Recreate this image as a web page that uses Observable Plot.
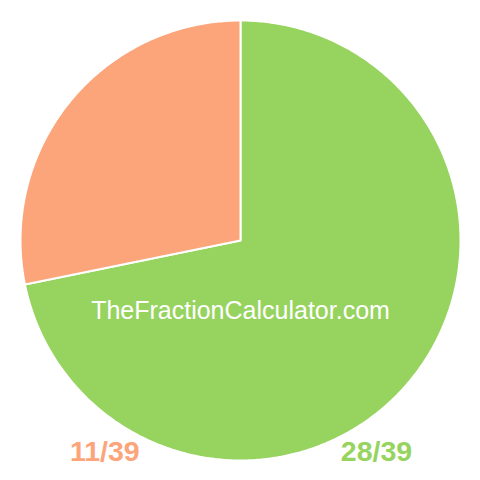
<!DOCTYPE html>
<html>
<head>
<meta charset="utf-8">
<script src="https://cdn.jsdelivr.net/npm/d3@7"></script>
<script src="https://cdn.jsdelivr.net/npm/@observablehq/plot@0.6"></script>
<style>
  html, body { margin: 0; padding: 0; background: #fff; }
  svg { display: block; }
</style>
</head>
<body>
<div id="chart"></div>
<script>
const labels = ["28/39", "11/39"];
const values = [28, 11];
const colors = ["#97d35f", "#fca57b"];
const watermark = "TheFractionCalculator.com";

const arcs = d3.pie().sort(null).startAngle(0).endAngle(2 * Math.PI)(values);

// Slice outlines in unit-circle space (angle measured clockwise from top)
const slicePoints = [];
arcs.forEach((a, i) => {
  slicePoints.push({ slice: labels[i], x: 0, y: 0 });
  const n = Math.max(2, Math.ceil((a.endAngle - a.startAngle) / 0.01));
  for (let k = 0; k <= n; k++) {
    const t = a.startAngle + (a.endAngle - a.startAngle) * k / n;
    slicePoints.push({ slice: labels[i], x: Math.sin(t), y: Math.cos(t) });
  }
  slicePoints.push({ slice: labels[i], x: 0, y: 0 });
});

// Fraction labels under the pie: green on the right, orange on the left
const labelData = labels.map((l, i) => ({
  label: l,
  color: colors[i],
  x: i === 0 ? 0.618 : -0.617,
  y: -1.0
}));

const chart = Plot.plot({
  width: 480,
  height: 480,
  margin: 0,
  x: { domain: [-1, 1], range: [20, 460], axis: null },
  y: { domain: [-1, 1], range: [460, 20], axis: null },
  color: { domain: labels, range: colors },
  style: { fontFamily: "'Liberation Sans', Arial, sans-serif", background: "white" },
  marks: [
    Plot.line(slicePoints, {
      x: "x", y: "y", z: "slice",
      fill: "slice",
      stroke: "white",
      strokeWidth: 2,
      strokeLinejoin: "round"
    }),
    Plot.text([watermark], {
      x: () => 0, y: () => -0.359,
      text: d => d,
      fill: "white",
      fontSize: 25,
      textAnchor: "middle",
      lineAnchor: "bottom"
    }),
    Plot.text(labelData, {
      x: "x", y: "y",
      text: "label",
      fill: d => d.color,
      fontSize: 28.5,
      fontWeight: "bold",
      textAnchor: "middle",
      lineAnchor: "bottom"
    })
  ]
});

document.getElementById("chart").appendChild(chart);
</script>
</body>
</html>
